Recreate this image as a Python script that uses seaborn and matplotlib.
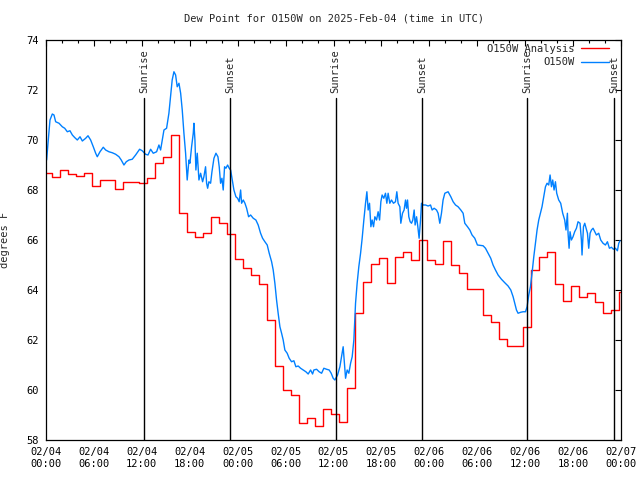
import pandas as pd
import numpy as np
import matplotlib
matplotlib.use("Agg")
import matplotlib.pyplot as plt
import matplotlib.dates as mdates
import seaborn as sns

# data (hours after 2025-02-04 00:00 UTC)
red_start = [0.0] + [k + 0.7 for k in range(72)]
red_vals = [68.7, 68.52, 68.79, 68.63, 68.56, 68.67, 68.17, 68.39, 68.40, 68.03,
            68.33, 68.33, 68.27, 68.47, 69.09, 69.33, 70.19, 67.08, 66.31, 66.11,
            66.27, 66.9, 66.7, 66.23, 65.23, 64.87, 64.6, 64.23, 62.8, 60.97,
            59.99, 59.81, 58.68, 58.87, 58.55, 59.23, 59.03, 58.72, 60.07, 63.1,
            64.33, 65.03, 65.27, 64.27, 65.31, 65.53, 65.2, 66.0, 65.2, 65.04,
            65.97, 64.99, 64.69, 64.06, 64.05, 62.99, 62.72, 62.05, 61.77, 61.77,
            62.53, 64.8, 65.33, 65.51, 64.23, 63.56, 64.15, 63.71, 63.87, 63.51,
            63.07, 63.2, 63.91]

blue_hours = [0.08, 0.25, 0.5, 0.79, 1.0, 1.21, 1.63, 2.04, 2.34, 2.67, 3.0, 3.3,
              3.59, 3.92, 4.26, 4.55, 4.97, 5.26, 5.59, 5.92, 6.22, 6.42, 6.76,
              7.17, 7.47, 7.88, 8.3, 8.72, 9.14, 9.42, 9.76, 10.05, 10.39, 10.8,
              11.22, 11.72, 12.05, 12.47, 12.77, 13.1, 13.43, 13.85, 14.14, 14.35,
              14.56, 14.77, 15.1, 15.39, 15.6, 15.8, 16.02, 16.23, 16.43, 16.65,
              16.86, 17.06, 17.27, 17.48, 17.68, 17.9,
              18.02, 18.23, 18.44, 18.52, 18.65, 18.77, 18.94, 19.15, 19.36, 19.61,
              19.77, 19.98, 20.11, 20.24, 20.4, 20.61, 20.78, 21.03, 21.28, 21.53,
              21.69, 21.86, 22.03, 22.19, 22.36, 22.53, 22.74, 22.94, 23.12, 23.32,
              23.53, 23.78, 23.99, 24.19, 24.37, 24.49, 24.7, 24.91, 25.12, 25.37,
              25.62, 25.95, 26.28, 26.57, 26.87, 27.12, 27.41, 27.7, 27.95, 28.25,
              28.45, 28.66, 28.87, 29.07, 29.29, 29.5, 29.7, 29.91, 30.2, 30.45,
              30.75, 31.04, 31.29, 31.58, 31.88, 32.2, 32.54, 32.83, 33.13, 33.38,
              33.54, 33.88, 34.2, 34.51, 34.79, 35.13, 35.46, 35.71, 35.96,
              36.17, 36.51, 36.8, 37.01, 37.21, 37.34, 37.51, 37.71, 37.92, 38.14,
              38.34, 38.55, 38.76, 38.96, 39.17, 39.39, 39.59, 39.8, 40.01, 40.18,
              40.34, 40.51, 40.68, 40.84, 41.01, 41.18, 41.39, 41.59, 41.77, 41.93,
              42.09, 42.3, 42.51, 42.68, 42.84, 43.05, 43.26, 43.51, 43.76, 43.93,
              44.09, 44.31, 44.43, 44.64, 44.84, 45.02, 45.14, 45.27, 45.43, 45.6,
              45.77, 45.93, 46.1, 46.22, 46.4, 46.56, 46.72, 46.9, 47.02, 47.22,
              47.52, 47.85, 48.15, 48.35, 48.6, 48.9, 49.1, 49.31, 49.52, 49.72,
              49.94, 50.35, 50.69, 50.98, 51.28, 51.6, 51.94, 52.23, 52.44, 52.78,
              53.07, 53.35, 53.69, 54.02,
              54.73, 55.03, 55.36, 55.69, 55.98, 56.28, 56.61, 57.03, 57.45, 57.86,
              58.2, 58.49, 58.7, 58.91, 59.11, 59.45, 59.74, 60.04, 60.24, 60.45,
              60.66, 60.86, 61.08, 61.29, 61.49, 61.7, 61.91, 62.11, 62.33, 62.54,
              62.74, 62.95, 63.12, 63.29, 63.45, 63.62, 63.79, 63.95, 64.2, 64.45,
              64.7, 64.95, 65.11, 65.29, 65.37, 65.5, 65.62, 65.79, 65.99, 66.2,
              66.42, 66.62, 66.87, 67.04, 67.12, 67.3, 67.46, 67.63, 67.8, 67.96,
              68.13, 68.3, 68.5, 68.71, 68.92, 69.21, 69.46, 69.75, 70.05, 70.3,
              70.55, 70.8, 71.05, 71.3, 71.55, 71.72, 71.88]
blue_vals = [69.2, 69.87, 70.8, 71.04, 71.0, 70.73, 70.67, 70.53, 70.47, 70.33, 70.37, 70.2,
             70.1, 70.0, 70.13, 69.96, 70.07, 70.17, 70.0, 69.73, 69.47, 69.33, 69.53,
             69.71, 69.6, 69.53, 69.49, 69.43, 69.33, 69.2, 69.0, 69.13, 69.2, 69.23,
             69.4, 69.63, 69.57, 69.43, 69.4, 69.63, 69.47, 69.53, 69.8, 69.6,
             70.0, 70.4, 70.47, 71.07, 71.73, 72.4, 72.73, 72.6, 72.13, 72.27,
             71.87, 71.2, 70.27, 69.47, 68.4, 69.2,
             69.07, 69.73, 70.27, 70.67, 70.0, 68.8, 69.47, 68.4, 68.67, 68.33,
             68.53, 68.93, 68.27, 68.07, 68.33, 68.27, 68.73, 69.27, 69.47, 69.33,
             68.93, 68.27, 68.47, 68.0, 68.93, 68.87, 69.0, 68.87, 68.8, 68.4,
             68.0, 67.73, 67.67, 67.53, 68.0, 67.47, 67.6, 67.47, 67.27, 66.93,
             67.0, 66.87, 66.8, 66.6, 66.27, 66.07, 65.93, 65.8, 65.47, 65.13,
             64.8, 64.27, 63.6, 63.07, 62.53, 62.27, 62.0, 61.6, 61.47, 61.27,
             61.13, 61.17, 60.93, 60.96, 60.87, 60.8, 60.73, 60.64, 60.8, 60.64,
             60.8, 60.83, 60.73, 60.67, 60.87, 60.83, 60.8, 60.67, 60.47,
             60.4, 60.6, 60.93, 61.33, 61.73, 61.2, 60.47, 60.8, 60.67, 61.07,
             61.33, 62.0, 63.47, 64.27, 64.93, 65.47, 66.07, 66.8, 67.47, 67.93,
             67.2, 67.47, 66.53, 66.8, 66.53, 66.93, 66.8, 67.13, 66.8, 67.53,
             67.8, 67.67, 67.87, 67.47, 67.87, 67.47, 67.6, 67.47, 67.53, 67.93,
             67.47, 67.33, 66.67, 67.07, 67.2, 67.6, 67.27, 67.6, 66.93, 66.73,
             66.67, 66.8, 67.2, 66.6, 66.93, 66.53, 66.07, 66.8, 67.47, 67.4,
             67.4, 67.36, 67.4, 67.2, 67.27, 67.2, 67.07, 66.67, 67.07, 67.6,
             67.87, 67.93, 67.73, 67.53, 67.4, 67.33, 67.2, 67.07, 66.67, 66.53,
             66.4, 66.2, 66.07, 65.8,
             65.77, 65.67, 65.47, 65.27, 65.0, 64.8, 64.6, 64.43, 64.29, 64.16,
             64.0, 63.73, 63.47, 63.2, 63.07, 63.11, 63.13, 63.13, 63.33, 63.8,
             64.13, 64.67, 65.33, 65.87, 66.4, 66.8, 67.07, 67.33, 67.73, 68.13,
             68.27, 68.2, 68.6, 68.13, 68.4, 68.0, 68.33, 67.87, 67.6, 67.47,
             67.07, 66.8, 66.4, 67.07, 66.27, 65.67, 66.33, 66.0, 66.13, 66.33,
             66.47, 66.73, 66.67, 66.0, 65.4, 66.53, 66.67, 66.47, 66.27, 65.67,
             66.27, 66.4, 66.47, 66.33, 66.2, 66.27, 66.0, 65.87, 65.8, 65.93,
             65.67, 65.71, 65.63, 65.67, 65.57, 65.87, 65.97]

sun_hours = [12.27, 23.07, 36.26, 47.1, 60.28, 71.13]
sun_labels = ["Sunrise", "Sunset", "Sunrise", "Sunset", "Sunrise", "Sunset"]

t0 = pd.Timestamp("2025-02-04 00:00")
# close the last analysis step at the right edge of the period
red_df = pd.DataFrame({"time": t0 + pd.to_timedelta(red_start + [72.0], unit="h"),
                       "dew": red_vals + [red_vals[-1]]})
blue_df = pd.DataFrame({"time": t0 + pd.to_timedelta(blue_hours, unit="h"),
                        "dew": blue_vals})

sns.set_style("white")
plt.rcParams["font.family"] = ["DejaVu Sans Mono", "DejaVu Sans"]
plt.rcParams["font.size"] = 7.5

fig = plt.figure(figsize=(6.4, 4.8), dpi=100)
ax = fig.add_axes([46 / 640, 40 / 480, 575 / 640, 400 / 480])

sns.lineplot(data=red_df, x="time", y="dew", ax=ax, color="#ff0000", lw=1.0,
             drawstyle="steps-post", label="O150W Analysis", estimator=None)
sns.lineplot(data=blue_df, x="time", y="dew", ax=ax, color="#0080ff", lw=1.0,
             label="O150W", estimator=None)

for h, lab in zip(sun_hours, sun_labels):
    t = t0 + pd.Timedelta(hours=h)
    ax.axvline(t, ymin=0, ymax=0.855, color="black", lw=1.0)
    ax.text(mdates.date2num(t), 0.868, lab, rotation=90, ha="center", va="bottom",
            transform=ax.get_xaxis_transform(), fontsize=7.5)

ax.set_xlim(t0, t0 + pd.Timedelta(hours=72))
ax.set_ylim(58, 74)
ax.set_yticks(np.arange(58, 75, 2))
ax.xaxis.set_major_locator(mdates.HourLocator(byhour=[0, 6, 12, 18]))
ax.xaxis.set_minor_locator(mdates.HourLocator(interval=2))
ax.xaxis.set_major_formatter(mdates.DateFormatter("%m/%d\n%H:%M"))
ax.tick_params(which="both", direction="in", top=True, right=True, colors="black",
               labelsize=7.5)
ax.tick_params(which="major", length=4, width=0.8, pad=5)
ax.tick_params(which="minor", length=2, width=0.8)
for s in ax.spines.values():
    s.set_color("black")
    s.set_linewidth(0.9)

ax.set_xlabel("")
ax.set_ylabel("degrees F", fontsize=7.5)
ax.yaxis.set_label_coords(-0.062, 0.5)
ax.set_title("Dew Point for O150W on 2025-Feb-04 (time in UTC)", fontsize=7.5, pad=13)

ax.legend(loc="upper right", bbox_to_anchor=(0.992, 1.008), frameon=False,
          markerfirst=False, handlelength=2.7, handletextpad=0.6,
          labelspacing=0.3, borderpad=0.2, fontsize=7.5)

fig.savefig("out.png", dpi=100)
